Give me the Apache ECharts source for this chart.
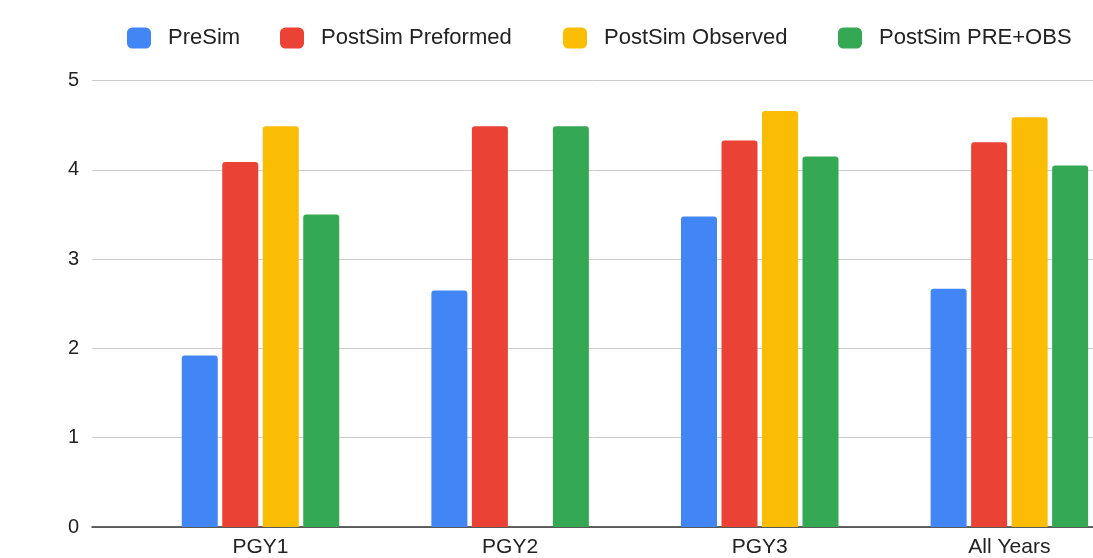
<!DOCTYPE html>
<html>
<head>
<meta charset="utf-8">
<script src="https://cdn.jsdelivr.net/npm/echarts@6/dist/echarts.min.js"></script>
<style>
html,body{margin:0;padding:0;background:#fff;}
#chart{width:1093px;height:558px;}
</style>
</head>
<body>
<div id="chart"></div>
<script>
const categories = ['PGY1', 'PGY2', 'PGY3', 'All Years'];
const seriesNames = ['PreSim', 'PostSim Preformed', 'PostSim Observed', 'PostSim PRE+OBS'];
const preSim = [1.92, 2.65, 3.48, 2.67];
const postPreformed = [4.09, 4.49, 4.33, 4.31];
const postObserved = [4.49, null, 4.66, 4.59];
const postPreObs = [3.50, 4.49, 4.15, 4.05];
const yTicks = [0, 1, 2, 3, 4, 5];

const colors = ['#4285F4', '#EA4335', '#FBBC04', '#34A853'];
const values = [preSim, postPreformed, postObserved, postPreObs];
const FONT = '"Liberation Sans", Arial, Helvetica, sans-serif';

const chart = echarts.init(document.getElementById('chart'), null, {renderer: 'canvas'});

const legendLefts = [127, 280, 563, 838];
const legends = seriesNames.map((n, i) => ({
  data: [n],
  left: legendLefts[i],
  top: 27,
  padding: 0,
  itemWidth: 24,
  itemHeight: 21,
  icon: 'roundRect',
  selectedMode: false,
  textStyle: {fontFamily: FONT, fontSize: 22, color: '#222', padding: [2, 0, 0, 12]}
}));

const option = {
  backgroundColor: '#fff',
  animation: false,
  legend: legends,
  grid: {left: 92, right: 0, top: 80.7, bottom: 30.7, containLabel: false},
  xAxis: {
    type: 'value',
    min: -0.675,
    max: 3.335,
    splitLine: {show: false},
    axisTick: {show: false},
    axisLine: {show: true, onZero: false, lineStyle: {color: '#333', width: 1.5}},
    axisLabel: {
      customValues: [0, 1, 2, 3],
      formatter: v => categories[Math.round(v)] || '',
      fontFamily: FONT, fontSize: 21, color: '#222', margin: 10
    }
  },
  yAxis: {
    type: 'value',
    min: yTicks[0],
    max: yTicks[yTicks.length - 1],
    interval: 1,
    axisLine: {show: false},
    axisTick: {show: false},
    splitLine: {lineStyle: {color: '#cccccc', width: 1}},
    axisLabel: {fontFamily: FONT, fontSize: 20, color: '#222', margin: 13}
  },
  series: seriesNames.map((n, i) => ({
    name: n,
    type: 'bar',
    barWidth: 36,
    barGap: '12.5%',
    itemStyle: {color: colors[i], borderRadius: [3, 3, 0, 0]},
    data: values[i].map((v, j) => [j, v])
  }))
};
chart.setOption(option);
</script>
</body>
</html>
